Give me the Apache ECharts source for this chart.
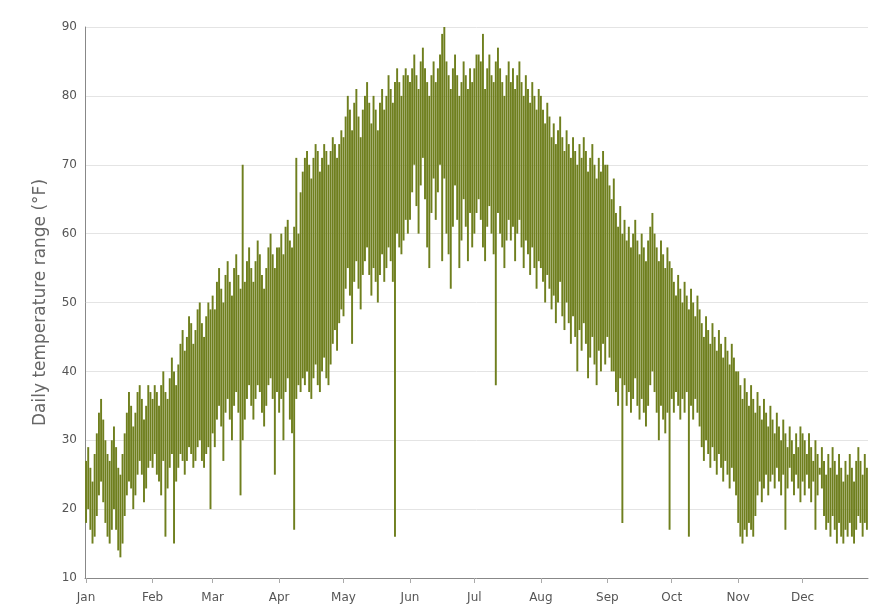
<!DOCTYPE html>
<html>
<head>
<meta charset="utf-8">
<script src="https://cdn.jsdelivr.net/npm/echarts@6/dist/echarts.min.js"></script>
<style>
  html, body { margin: 0; padding: 0; background: #ffffff; }
  #chart { width: 890px; height: 614px; }
</style>
</head>
<body>
<div id="chart"></div>
<script>
// Month labels and lengths for the category axis (one category per day)
const monthNames = ['Jan', 'Feb', 'Mar', 'Apr', 'May', 'Jun', 'Jul', 'Aug', 'Sep', 'Oct', 'Nov', 'Dec'];
const monthLengths = [31, 28, 31, 30, 31, 30, 31, 31, 30, 31, 30, 31];

// Y axis ticks (°F)
const yTicks = [10, 20, 30, 40, 50, 60, 70, 80, 90];

// Daily highs and lows (°F), one array per month
const highJan = [27, 29, 26, 24, 28, 31, 34, 36, 33, 30, 28, 27, 30, 32, 29, 26, 25, 28, 31, 34, 37, 35, 32, 34, 37, 38, 36, 33, 35, 38, 37];
const lowJan  = [18, 20, 17, 15, 16, 19, 22, 24, 21, 18, 16, 15, 17, 20, 17, 14, 13, 15, 19, 22, 24, 23, 20, 22, 25, 27, 25, 21, 23, 26, 27];
const highFeb = [36, 38, 37, 35, 38, 40, 37, 36, 39, 42, 40, 38, 41, 44, 46, 43, 45, 48, 47, 44, 46, 49, 50, 47, 45, 48, 50, 49];
const lowFeb  = [26, 28, 25, 24, 22, 27, 16, 23, 26, 28, 15, 24, 26, 28, 27, 25, 27, 29, 28, 26, 27, 29, 30, 27, 26, 28, 29, 20];
const highMar = [51, 49, 53, 55, 52, 50, 54, 56, 53, 51, 55, 57, 54, 52, 70, 53, 56, 58, 55, 53, 56, 59, 57, 54, 52, 55, 58, 60, 57, 55, 58];
const lowMar  = [31, 29, 33, 35, 32, 27, 34, 36, 33, 30, 35, 37, 34, 22, 30, 33, 36, 38, 35, 33, 36, 38, 37, 34, 32, 35, 38, 39, 36, 25, 37];
const highApr = [58, 60, 57, 61, 62, 59, 58, 61, 71, 60, 66, 69, 71, 72, 70, 68, 71, 73, 72, 69, 71, 73, 72, 70, 72, 74, 73, 71, 73, 75];
const lowApr  = [34, 36, 30, 37, 39, 33, 31, 17, 36, 38, 37, 39, 38, 40, 37, 36, 39, 41, 38, 37, 40, 42, 39, 38, 41, 44, 46, 43, 47, 49];
const highMay = [74, 77, 80, 78, 75, 79, 81, 77, 74, 78, 80, 82, 79, 76, 80, 78, 75, 79, 81, 78, 80, 83, 81, 79, 82, 84, 82, 80, 83, 84, 83];
const lowMay  = [48, 52, 55, 51, 44, 53, 56, 52, 49, 54, 56, 58, 54, 51, 55, 53, 50, 54, 57, 53, 55, 58, 56, 53, 16, 60, 58, 57, 59, 62, 60];
const highJun = [82, 84, 86, 83, 81, 85, 87, 84, 82, 80, 83, 85, 82, 84, 86, 89, 90, 85, 83, 81, 84, 86, 83, 80, 82, 85, 83, 81, 84, 82];
const lowJun  = [62, 66, 70, 64, 60, 67, 71, 65, 58, 55, 63, 68, 62, 66, 70, 56, 68, 60, 57, 52, 61, 67, 62, 55, 59, 65, 61, 56, 63, 58];
const highJul = [84, 86, 86, 85, 89, 81, 84, 86, 83, 82, 85, 87, 84, 82, 80, 83, 85, 82, 84, 81, 83, 85, 82, 80, 83, 81, 79, 82, 80, 78, 81];
const lowJul  = [60, 63, 65, 62, 58, 56, 61, 64, 60, 57, 38, 63, 60, 58, 55, 59, 62, 59, 61, 56, 60, 62, 58, 55, 59, 57, 54, 58, 55, 52, 56];
const highAug = [80, 78, 76, 79, 77, 74, 76, 73, 75, 77, 74, 72, 75, 73, 71, 74, 72, 70, 73, 71, 74, 72, 69, 71, 73, 70, 68, 71, 69, 72, 70];
const lowAug  = [55, 53, 50, 54, 52, 49, 51, 47, 50, 53, 48, 46, 50, 47, 44, 48, 45, 40, 46, 43, 47, 44, 39, 42, 45, 41, 38, 43, 40, 44, 41];
const highSep = [70, 67, 65, 68, 63, 61, 64, 60, 62, 59, 61, 58, 60, 62, 59, 57, 60, 58, 56, 59, 61, 63, 60, 58, 56, 59, 57, 55, 58, 56];
const lowSep  = [45, 42, 40, 40, 37, 35, 39, 18, 38, 35, 37, 34, 36, 39, 35, 33, 36, 34, 32, 35, 38, 40, 37, 34, 30, 35, 33, 31, 34, 17];
const highOct = [55, 53, 51, 54, 52, 50, 53, 51, 49, 52, 50, 48, 51, 49, 47, 45, 48, 46, 44, 47, 45, 43, 46, 44, 42, 45, 43, 41, 44, 42, 40];
const lowOct  = [36, 34, 37, 35, 33, 36, 34, 37, 16, 35, 33, 36, 34, 32, 29, 27, 30, 28, 26, 29, 27, 25, 28, 26, 24, 27, 25, 23, 26, 24, 22];
const highNov = [40, 38, 36, 39, 37, 35, 38, 36, 34, 37, 35, 33, 36, 34, 32, 35, 33, 31, 34, 32, 30, 33, 31, 29, 32, 30, 28, 31, 29, 32];
const lowNov  = [18, 16, 15, 17, 16, 18, 17, 16, 19, 22, 24, 21, 23, 25, 22, 24, 25, 23, 26, 24, 22, 25, 17, 23, 26, 24, 22, 25, 23, 21];
const highDec = [31, 30, 28, 31, 29, 27, 30, 28, 26, 29, 27, 25, 28, 26, 29, 27, 25, 28, 26, 24, 27, 25, 28, 26, 24, 27, 29, 27, 25, 28, 26];
const lowDec  = [24, 22, 25, 23, 21, 24, 17, 22, 25, 23, 19, 17, 18, 16, 19, 17, 15, 18, 16, 15, 17, 16, 18, 16, 15, 17, 19, 18, 16, 18, 17];

const highs = [].concat(highJan, highFeb, highMar, highApr, highMay, highJun,
                        highJul, highAug, highSep, highOct, highNov, highDec);
const lows = [].concat(lowJan, lowFeb, lowMar, lowApr, lowMay, lowJun,
                       lowJul, lowAug, lowSep, lowOct, lowNov, lowDec);

// One category per day, e.g. "Mar 14"
const dayLabels = [];
monthNames.forEach((m, i) => {
  for (let d = 1; d <= monthLengths[i]; d++) dayLabels.push(m + ' ' + d);
});
const isMonthStart = (idx, value) => /\s1$/.test(value);

// Floating bars: an invisible base up to the low, then the low-to-high span
const spans = highs.map((h, i) => h - lows[i]);

const chart = echarts.init(document.getElementById('chart'), null, { renderer: 'canvas' });
chart.setOption({
  animation: false,
  backgroundColor: '#ffffff',
  grid: { left: 85, right: 22, top: 27, bottom: 36 },
  xAxis: {
    type: 'category',
    data: dayLabels,
    boundaryGap: true,
    axisLine: { show: true, lineStyle: { color: '#888888', width: 1 } },
    axisTick: { show: true, interval: isMonthStart, alignWithLabel: true, length: 5, lineStyle: { color: '#aaaaaa' } },
    axisLabel: {
      interval: isMonthStart,
      formatter: v => v.split(' ')[0],
      color: '#555555',
      fontSize: 12,
      fontFamily: 'DejaVu Sans',
      margin: 14
    },
    splitLine: { show: false }
  },
  yAxis: {
    type: 'value',
    min: yTicks[0],
    max: yTicks[yTicks.length - 1],
    interval: yTicks[1] - yTicks[0],
    name: 'Daily temperature range (°F)',
    nameLocation: 'middle',
    nameGap: 36,
    nameTextStyle: { color: '#666666', fontSize: 17, fontFamily: 'DejaVu Sans' },
    axisLine: { show: true, lineStyle: { color: '#888888', width: 1 } },
    axisTick: { show: false },
    axisLabel: { color: '#555555', fontSize: 12, fontFamily: 'DejaVu Sans', margin: 8 },
    splitLine: { show: true, lineStyle: { color: '#e4e4e4', width: 1 } }
  },
  series: [
    {
      name: 'base',
      type: 'bar',
      stack: 'range',
      data: lows,
      itemStyle: { color: 'transparent' },
      emphasis: { disabled: true },
      barCategoryGap: '10%',
      silent: true
    },
    {
      name: 'range',
      type: 'bar',
      stack: 'range',
      data: spans,
      itemStyle: { color: '#6f7f1e' },
      barCategoryGap: '10%'
    }
  ]
});
</script>
</body>
</html>
